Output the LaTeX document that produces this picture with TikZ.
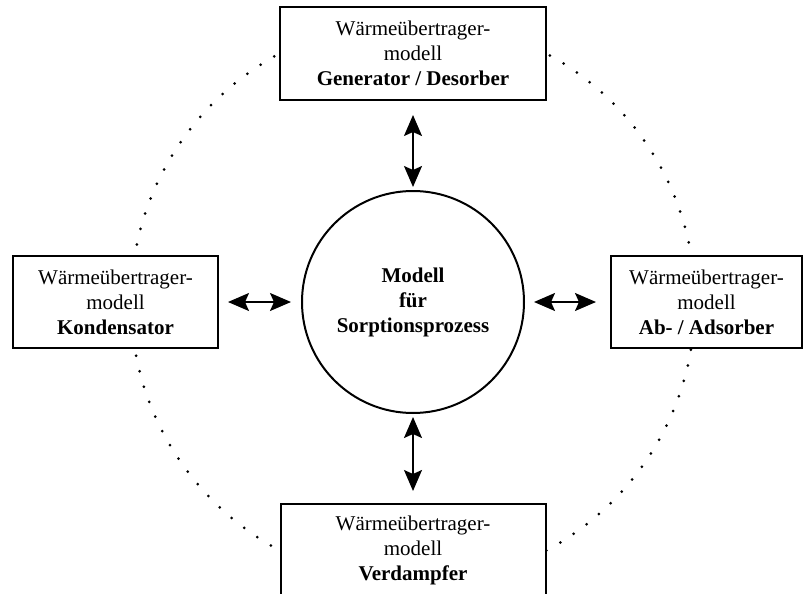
\documentclass[tikz,border=0pt]{standalone}
\usepackage{fontspec}
\setmainfont{Liberation Serif}
\usetikzlibrary{arrows.meta}
\begin{document}
\begin{tikzpicture}[x=0.5pt,y=-0.5pt,
  model/.style={draw, line width=1pt, fill=white, align=center, inner sep=0pt,
    font=\fontsize{10.5}{12.5}\selectfont},
  core/.style={draw, circle, line width=1pt, fill=white, minimum size=111pt,
    inner sep=0pt, align=center, font=\fontsize{10.5}{12.5}\selectfont\bfseries},
  tip/.tip={Stealth[length=10.5pt,width=9pt,inset=2pt]},
  link/.style={line width=0.9pt, tip-tip},
  orbit/.style={line width=1.5pt, line cap=round, dash pattern=on 0pt off 8pt}]
  % page frame
  \clip (0,0) rectangle (804,594);
  \fill[white] (0,0) rectangle (804,594);
  % dotted ring through the four heat exchanger models
  \draw[orbit] (413,302) circle[radius=282];
  % central sorption model
  \node[core] (core) at (413,302) {Modell\\für\\Sorptionsprozess};
  % heat exchanger models
  \node[model, minimum width=133pt, minimum height=46.5pt] (gen) at (413,53.5)
    {Wärmeübertrager-\\modell\\\textbf{Generator / Desorber}};
  \node[model, minimum width=102.5pt, minimum height=46pt] (cond) at (115.5,302)
    {Wärmeübertrager-\\modell\\\textbf{Kondensator}};
  \node[model, minimum width=95.5pt, minimum height=46pt] (ads) at (706.5,302)
    {Wärmeübertrager-\\modell\\\textbf{Ab- / Adsorber}};
  \node[model, minimum width=132.5pt, minimum height=46.5pt] (evap) at (413,550.5)
    {Wärmeübertrager-\\modell\\\textbf{Verdampfer}};
  % coupling arrows
  \draw[link, shorten <=7pt, shorten >=1.5pt] (gen) -- (core);
  \draw[link, shorten <=1.5pt, shorten >=6pt] (core) -- (evap);
  \draw[link, shorten <=4.5pt, shorten >=5pt] (cond) -- (core);
  \draw[link, shorten <=4.5pt, shorten >=7pt] (core) -- (ads);
\end{tikzpicture}
\end{document}
